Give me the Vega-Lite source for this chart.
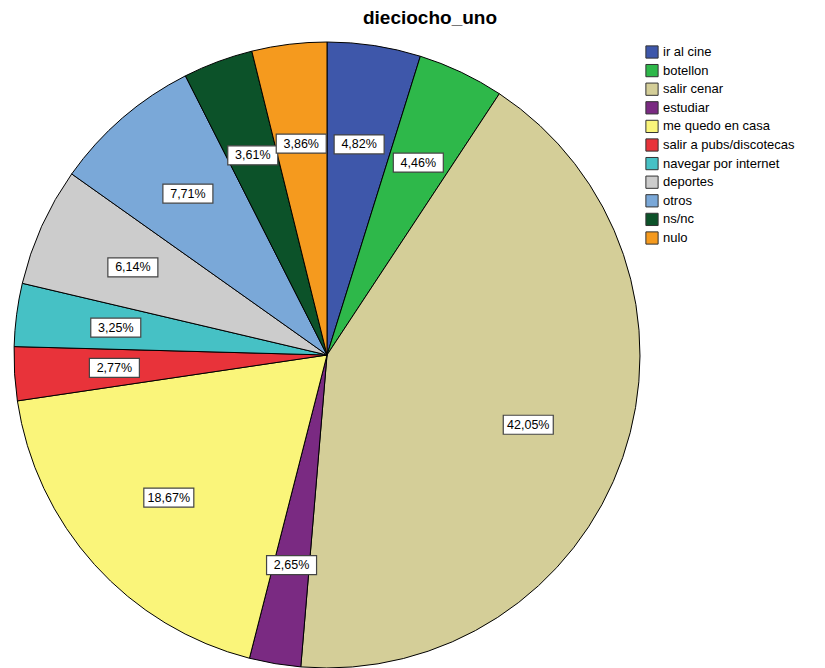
{
  "$schema": "https://vega.github.io/schema/vega-lite/v6.json",
  "autosize": {"type": "none"},
  "padding": {"left": 0, "top": 42, "right": 171, "bottom": 0},
  "width": 654,
  "height": 626,
  "background": "white",
  "view": {"stroke": null},
  "title": {
    "text": "dieciocho_uno",
    "font": "Liberation Sans",
    "fontSize": 19,
    "fontWeight": "bold",
    "color": "#000000",
    "anchor": "middle",
    "dx": 103,
    "offset": 12
  },
  "data": {
    "values": [
      {"idx": 1, "cat": "ir al cine", "pct": 4.82, "label": "4,82%"},
      {"idx": 2, "cat": "botellon", "pct": 4.46, "label": "4,46%"},
      {"idx": 3, "cat": "salir cenar", "pct": 42.05, "label": "42,05%"},
      {"idx": 4, "cat": "estudiar", "pct": 2.65, "label": "2,65%"},
      {"idx": 5, "cat": "me quedo en casa", "pct": 18.67, "label": "18,67%"},
      {"idx": 6, "cat": "salir a pubs/discotecas", "pct": 2.77, "label": "2,77%"},
      {"idx": 7, "cat": "navegar por internet", "pct": 3.25, "label": "3,25%"},
      {"idx": 8, "cat": "deportes", "pct": 6.14, "label": "6,14%"},
      {"idx": 9, "cat": "otros", "pct": 7.71, "label": "7,71%"},
      {"idx": 10, "cat": "ns/nc", "pct": 3.61, "label": "3,61%"},
      {"idx": 11, "cat": "nulo", "pct": 3.86, "label": "3,86%"}
    ]
  },
  "transform": [
    {"window": [{"op": "sum", "field": "pct", "as": "cum"}], "sort": [{"field": "idx"}], "frame": [null, 0]},
    {"joinaggregate": [{"op": "sum", "field": "pct", "as": "tot"}]},
    {"calculate": "(datum.cum - datum.pct / 2) / datum.tot * 2 * PI", "as": "ang"},
    {"calculate": "sin(datum.ang) * 213", "as": "lx"},
    {"calculate": "cos(datum.ang) * 213", "as": "ly"}
  ],
  "layer": [
    {
      "mark": {"type": "arc", "outerRadius": 313, "stroke": "#000000", "strokeWidth": 1},
      "encoding": {
        "theta": {"field": "pct", "type": "quantitative", "stack": true},
        "order": {"field": "idx", "type": "quantitative"},
        "color": {
          "field": "cat",
          "type": "nominal",
          "sort": null,
          "scale": {
            "domain": ["ir al cine", "botellon", "salir cenar", "estudiar", "me quedo en casa", "salir a pubs/discotecas", "navegar por internet", "deportes", "otros", "ns/nc", "nulo"],
            "range": ["#3E57AA", "#2EB84A", "#D4CE98", "#7A2A82", "#FAF57A", "#E8333A", "#46C1C5", "#CCCCCC", "#7AA8D8", "#0C5229", "#F59A1E"]
          },
          "legend": {
            "title": null,
            "orient": "none",
            "legendX": 645,
            "legendY": 3,
            "symbolType": "square",
            "symbolSize": 150,
            "symbolStrokeColor": "#333333",
            "symbolStrokeWidth": 1,
            "symbolOpacity": 1,
            "labelFont": "Liberation Sans",
            "labelFontSize": 13,
            "labelColor": "#000000",
            "labelOffset": 4,
            "rowPadding": 0.6,
            "labelLimit": 300
          }
        }
      }
    },
    {
      "mark": {"type": "point", "shape": "M-1,-0.38L1,-0.38L1,0.38L-1,0.38Z", "size": 2500, "filled": true, "fill": "white", "stroke": "#444444", "strokeWidth": 1.2, "opacity": 1},
      "encoding": {
        "x": {"field": "lx", "type": "quantitative", "scale": {"domain": [-327, 327]}, "axis": null},
        "y": {"field": "ly", "type": "quantitative", "scale": {"domain": [-313, 313]}, "axis": null}
      }
    },
    {
      "mark": {"type": "text", "font": "Liberation Sans", "fontSize": 12.5, "color": "#000000"},
      "encoding": {
        "x": {"field": "lx", "type": "quantitative", "scale": {"domain": [-327, 327]}, "axis": null},
        "y": {"field": "ly", "type": "quantitative", "scale": {"domain": [-313, 313]}, "axis": null},
        "text": {"field": "label"}
      }
    }
  ]
}
